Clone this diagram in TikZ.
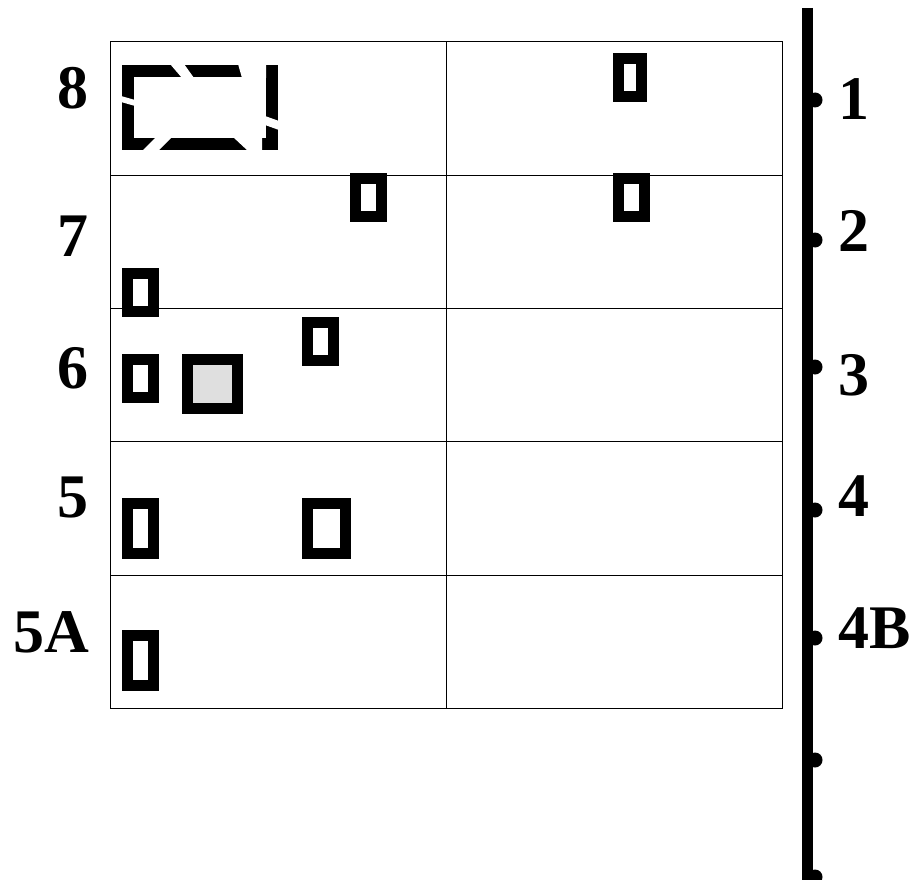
\documentclass[tikz,border=0pt]{standalone}
\usepackage{fontspec}
\setmainfont{Liberation Serif}
\begin{document}
\begin{tikzpicture}[x=1pt, y=-1pt,
    cell/.style={draw=black, line width=1pt},
    plot/.style={draw=black, line width=11pt, fill=white},
    lab/.style={font=\fontsize{62}{62}\selectfont\bfseries, inner sep=0pt}]
  \useasboundingbox (0,0) rectangle (915,880);

  % Grille
  \draw[cell] (110,42) rectangle (782,708);
  \draw[cell] (446,42) -- (446,708);
  \foreach \y in {175,308,441,575}
    \draw[cell] (110,\y) -- (782,\y);

  % Niveaux a gauche
  \node[lab, anchor=east] (n8) at (89,88) {8};
  \node[lab, anchor=east] (n7) at (89,236) {7};
  \node[lab, anchor=east] (n6) at (89,368) {6};
  \node[lab, anchor=east] (n5) at (89,497) {5};
  \node[lab, anchor=east] (n5A) at (89,632) {5A};

  % Bloc discontinu (rangee 8)
  \draw[draw=black, line width=12pt] (128,71) rectangle (272,144);
  \fill[white] (170,64) -- (184,64) -- (194,78) -- (182,78) -- cycle;
  \fill[white] (238,64) -- (266,64) -- (266,78) -- (242,78) -- cycle;
  \fill[white] (121,96) -- (135,100) -- (135,106) -- (121,102) -- cycle;
  \fill[white] (156,137) -- (172,137) -- (158,151) -- (142,151) -- cycle;
  \fill[white] (233,137) -- (262,137) -- (262,151) -- (248,151) -- cycle;
  \fill[white] (265,116) -- (279,121) -- (279,130) -- (265,125) -- cycle;

  % Petits blocs
  \draw[plot] (618.5,58.5) rectangle (641.5,96.5);
  \draw[plot] (355.5,178.5) rectangle (381.5,216.5);
  \draw[plot] (618.5,178.5) rectangle (644.5,216.5);
  \draw[plot] (127.5,273.5) rectangle (153.5,311.5);
  \draw[plot] (127.5,359.5) rectangle (153.5,397.5);
  \draw[plot, fill=gray!25] (187.5,359.5) rectangle (237.5,408.5);
  \draw[plot] (307.5,322.5) rectangle (333.5,360.5);
  \draw[plot] (127.5,503.5) rectangle (153.5,553.5);
  \draw[plot] (307.5,503.5) rectangle (345.5,553.5);
  \draw[plot] (127.5,635.5) rectangle (153.5,685.5);

  % Axe vertical a droite
  \draw[line width=11pt] (807.5,8) -- (807.5,880);
  \foreach \y/\n in {100/a1, 240/a2, 367/a3, 510/a4, 638/a4B, 760/a9, 877/a10} {
    \coordinate (\n) at (807.5,\y);
    \fill (815,\y) circle (7.5);
  }

  % Niveaux a droite
  \node[lab, anchor=west] (m1) at (838,99) {1};
  \node[lab, anchor=west] (m2) at (838,231) {2};
  \node[lab, anchor=west] (m3) at (838,375) {3};
  \node[lab, anchor=west] (m4) at (838,496) {4};
  \node[lab, anchor=west] (m4B) at (838,628) {4B};
\end{tikzpicture}
\end{document}
